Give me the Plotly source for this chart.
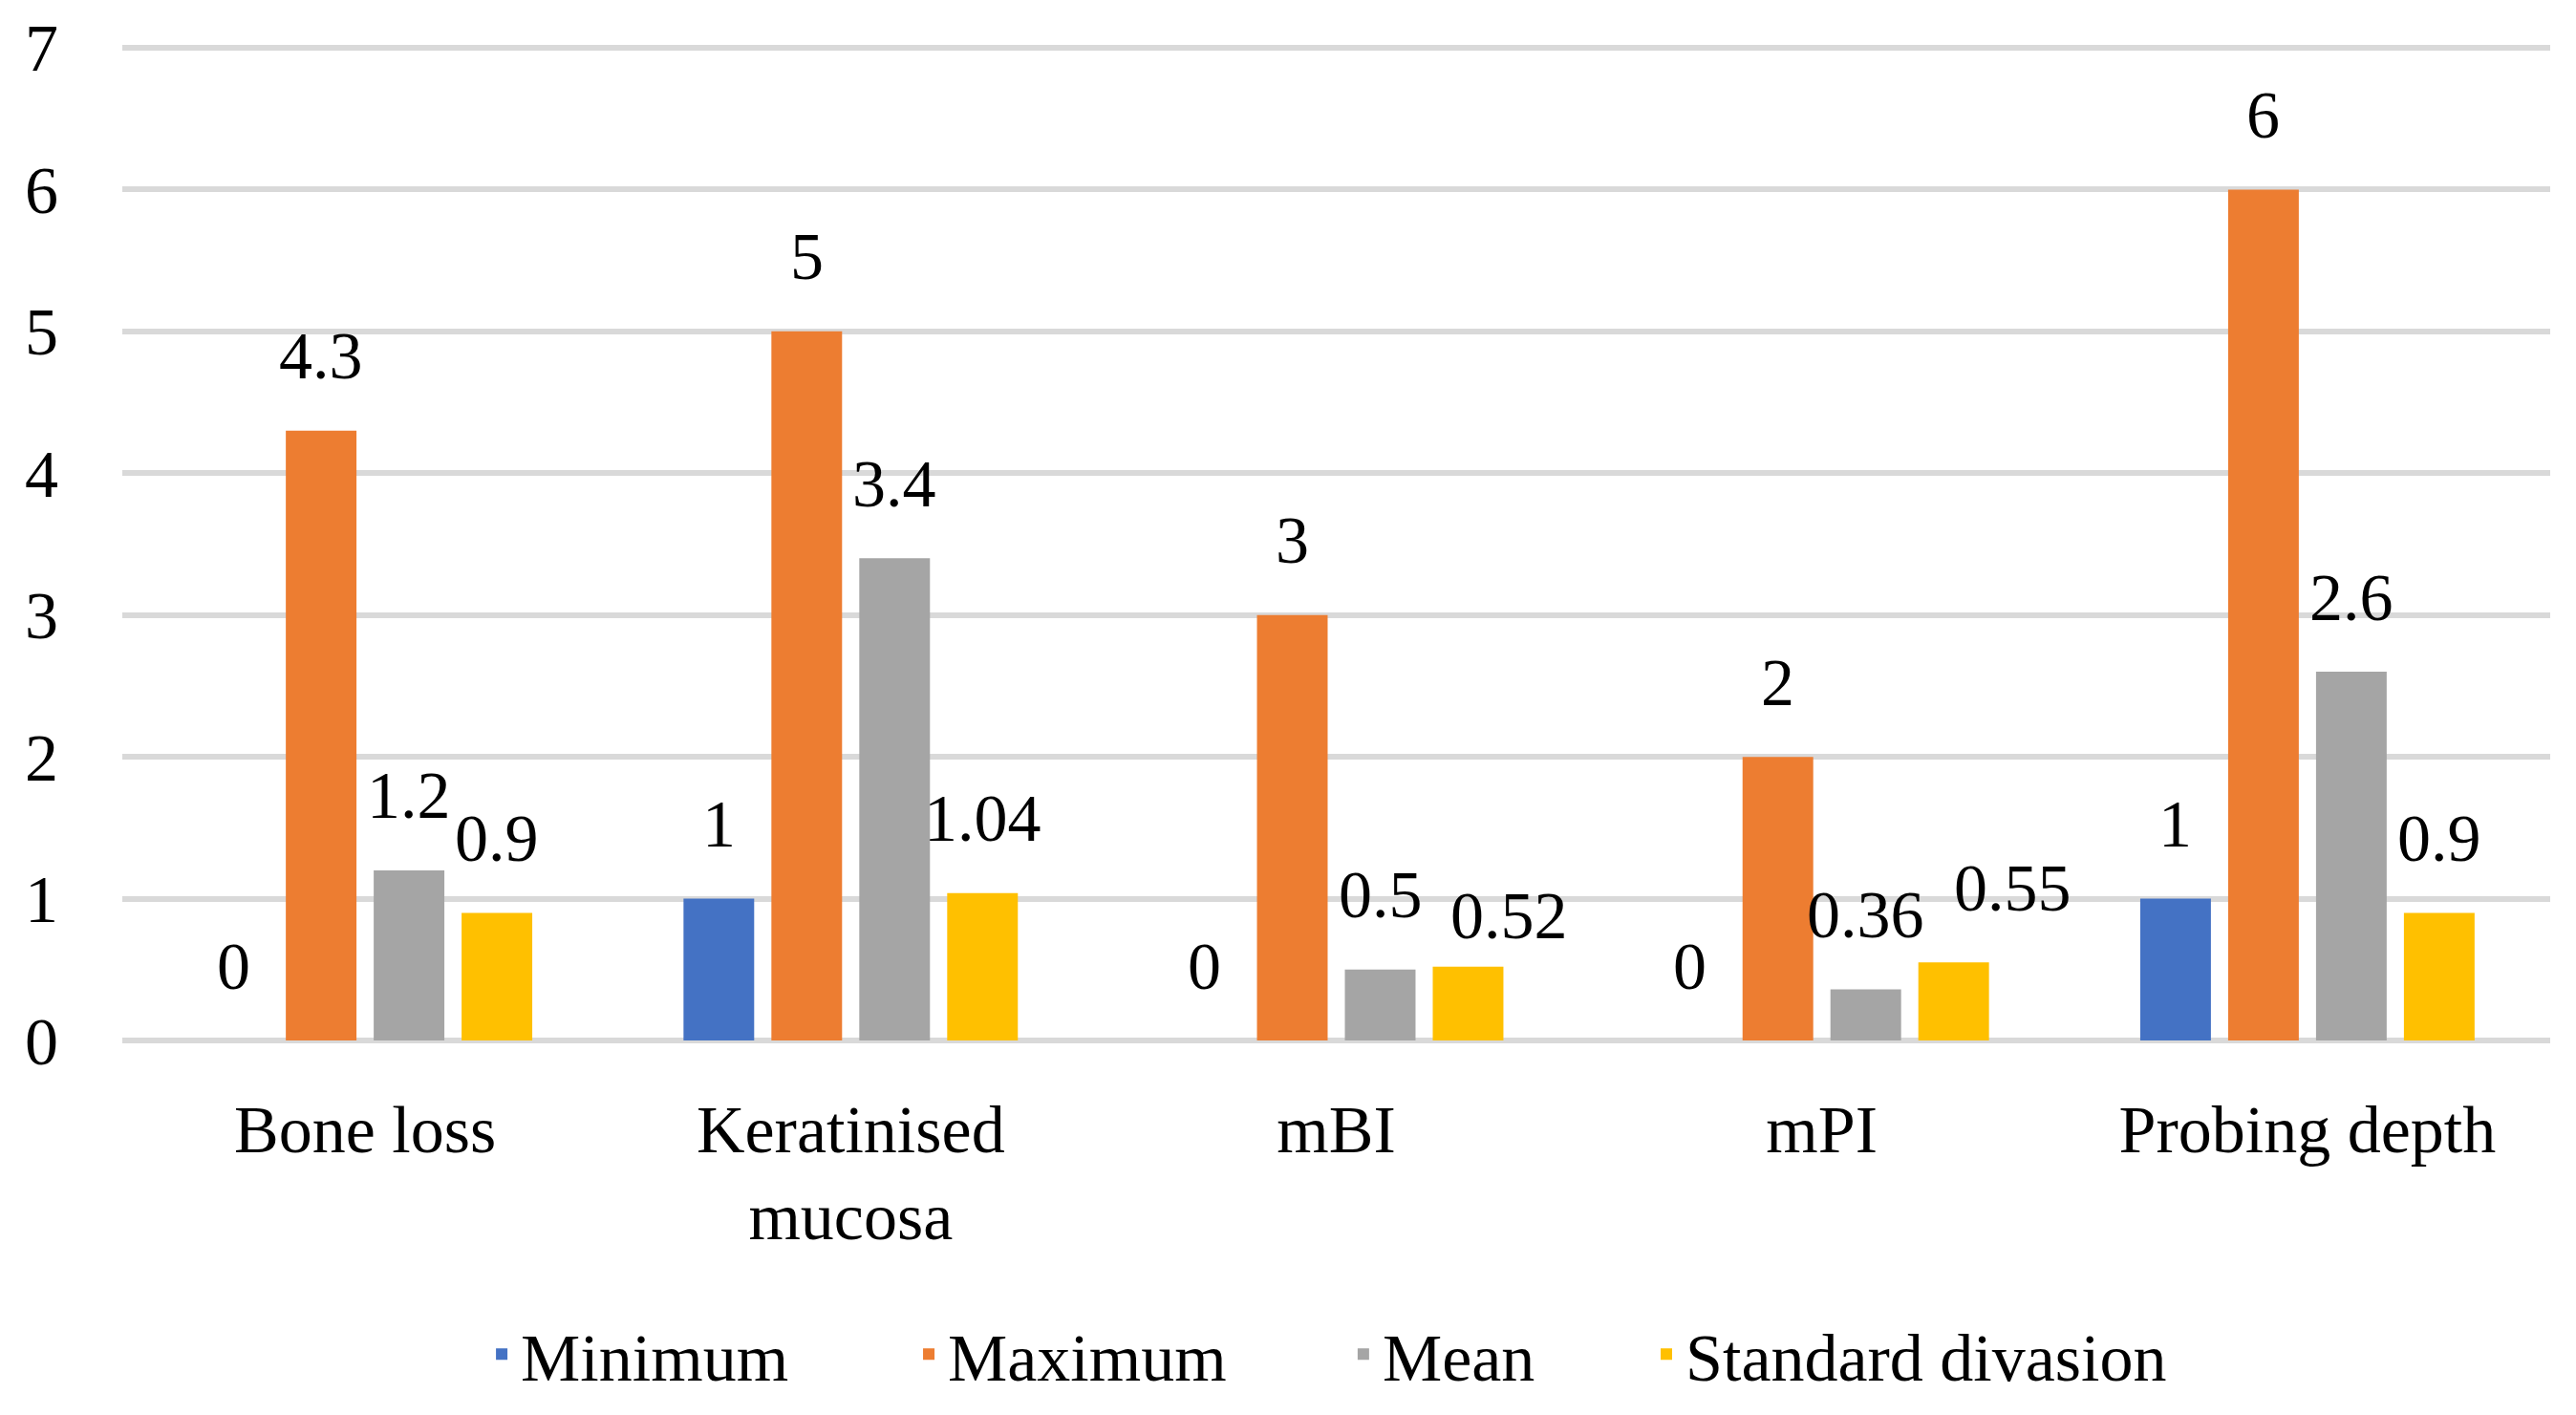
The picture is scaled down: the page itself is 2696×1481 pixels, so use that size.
import plotly.graph_objects as go

categories = ["Bone loss", "Keratinised<br>mucosa", "mBI", "mPI", "Probing depth"]
series_names = ["Minimum", "Maximum", "Mean", "Standard divasion"]
minimum = [0, 1, 0, 0, 1]
maximum = [4.3, 5, 3, 2, 6]
mean = [1.2, 3.4, 0.5, 0.36, 2.6]
std_dev = [0.9, 1.04, 0.52, 0.55, 0.9]
y_ticks = [0, 1, 2, 3, 4, 5, 6, 7]

series_values = [minimum, maximum, mean, std_dev]
colors = ["#4472C4", "#ED7D31", "#A5A5A5", "#FFC000"]

# manual label nudges (pixels) as in the original chart: (series index, category index) -> (dx, dy)
label_nudges = {(3, 2): (43, -25), (3, 3): (62, 0)}

# horizontal placement of each legend entry (fraction of plot width)
legend_x = [0.1484, 0.3243, 0.5033, 0.6281]
legend_ids = ["legend", "legend2", "legend3", "legend4"]

FONT = "Liberation Serif"
FS = 70

fig = go.Figure()
for name, vals, col, lid in zip(series_names, series_values, colors, legend_ids):
    fig.add_trace(go.Bar(x=categories, y=vals, name=name, legend=lid,
                         marker=dict(color=col, line=dict(width=0))))

# data labels above bars (Excel "outside end" style)
slot_px = 92
for i, vals in enumerate(series_values):
    for j, (cat, v) in enumerate(zip(categories, vals)):
        dx, dy = label_nudges.get((i, j), (0, 0))
        fig.add_annotation(x=cat, y=v, text=f"{v:g}", showarrow=False,
                           xshift=(i - 1.5) * slot_px + dx, yshift=78 + dy, yanchor="middle",
                           font=dict(family=FONT, size=FS, color="black"))

legend_common = dict(orientation="h", xanchor="left", y=-0.315, yanchor="middle",
                     bgcolor="rgba(0,0,0,0)", font=dict(family=FONT, size=FS, color="black"))

# the page body has an 8px default margin, so the figure is 8px smaller on each side
fig.update_layout(
    width=2688, height=1473,
    margin=dict(l=120, r=27, t=39, b=385),
    paper_bgcolor="white", plot_bgcolor="white",
    barmode="group", bargap=0.276, bargroupgap=0.196,
    font=dict(family=FONT, size=FS, color="black"),
    showlegend=True,
    **{lid: dict(x=lx, **legend_common) for lid, lx in zip(legend_ids, legend_x)},
)
fig.update_yaxes(range=[0, 7.02], tickvals=y_ticks, showgrid=True, gridcolor="#D9D9D9", gridwidth=6,
                 zeroline=True, zerolinecolor="#D9D9D9", zerolinewidth=6, showline=False,
                 automargin=False, ticklabelstandoff=66,
                 tickfont=dict(family=FONT, size=FS, color="black"))
fig.update_xaxes(showgrid=False, showline=False, ticks="", ticklabelstandoff=46, automargin=False,
                 tickfont=dict(family=FONT, size=FS, color="black"))

fig.write_html("out.html")
